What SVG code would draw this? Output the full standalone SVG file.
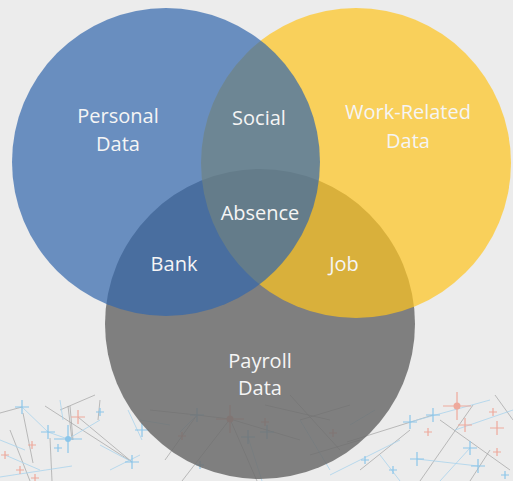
<svg xmlns="http://www.w3.org/2000/svg" width="513" height="481" viewBox="0 0 513 481">
<defs>
<style>
.lbl{font-family:"Open Sans","Noto Sans","Liberation Sans",sans-serif;font-size:20px;fill:#f5f5f5;text-anchor:middle}
.ln{stroke:#9a9a9a;stroke-width:0.8;fill:none;opacity:0.8}
.lb{stroke:#a9d3ec;stroke-width:0.8;fill:none}
.cb{stroke:#8cc6ea;stroke-width:1.2;fill:none}
.cs{stroke:#eea99c;stroke-width:1.2;fill:none}
</style>
<path id="xs" d="M-4 0H4M0 -4V4"/>
<path id="xm" d="M-7 0H7M0 -7V7"/>
<path id="xl" d="M-14 0H14M0 -14V14"/>
</defs>
<rect width="513" height="481" fill="#ececec"/>
<g id="decoration">
<path class="ln" d="M45 406L132 462M68 406L72 440M70 406L73 440M23 413L33 463M50 438L52 481M0 413L22 407M78 417L132 462M100 400L98 420M10 430L30 481M60 410L95 395"/>
<path class="lb" d="M0 477L72 466M22 407L48 432L68 439L100 420M5 455L40 470M128 410L142 440M100 445L132 462M0 440L25 450M60 400L63 420M110 470L140 455"/>
<path class="ln" d="M230 419L182 481M230 419L257 481M230 419L300 440M150 410L197 415L230 419M265 405L330 420M290 395L340 450M197 415L165 460M300 420L350 405M310 455L360 440"/>
<path class="lb" d="M248 437L262 481M197 415L180 432M300 420L330 470M140 420L170 425"/>
<path class="ln" d="M347 442L433 415M440 420L510 470M473 405L420 481M360 470L410 430M490 450L470 481M495 395L513 420"/>
<path class="lb" d="M410 422L490 400M417 459L478 466M330 475L400 440M455 430L513 410M470 448L440 481M380 455L400 481M350 425L375 410"/>
<use href="#xl" class="cb" x="68" y="439"/><circle cx="68" cy="439" r="3" fill="#8cc6ea"/>
<use href="#xm" class="cb" x="22" y="407"/>
<use href="#xm" class="cs" x="78" y="417"/>
<use href="#xm" class="cb" x="48" y="432"/>
<use href="#xm" class="cb" x="132" y="462"/>
<use href="#xm" class="cb" x="142" y="430"/>
<use href="#xs" class="cs" x="32" y="445"/>
<use href="#xs" class="cs" x="20" y="470"/>
<use href="#xs" class="cb" x="58" y="448"/>
<use href="#xs" class="cs" x="5" y="455"/>
<use href="#xs" class="cb" x="100" y="412"/>
<use href="#xs" class="cs" x="35" y="478"/>
<use href="#xl" class="cs" x="230" y="419"/><circle cx="230" cy="419" r="3.5" fill="#eea99c"/>
<use href="#xm" class="cb" x="248" y="437"/>
<use href="#xm" class="cb" x="197" y="415"/>
<use href="#xm" class="cb" x="267" y="432"/>
<use href="#xs" class="cs" x="182" y="436"/>
<use href="#xs" class="cs" x="333" y="433"/>
<use href="#xs" class="cs" x="265" y="422"/>
<use href="#xs" class="cb" x="200" y="465"/>
<use href="#xl" class="cs" x="457" y="406"/><circle cx="457" cy="406" r="3.5" fill="#eea99c"/>
<use href="#xm" class="cs" x="465" y="425"/>
<use href="#xm" class="cb" x="433" y="415"/>
<use href="#xm" class="cb" x="417" y="459"/>
<use href="#xm" class="cs" x="497" y="428"/>
<use href="#xm" class="cb" x="470" y="448"/>
<use href="#xm" class="cb" x="478" y="466"/>
<use href="#xm" class="cb" x="410" y="422"/>
<use href="#xs" class="cs" x="428" y="432"/>
<use href="#xs" class="cb" x="393" y="470"/>
<use href="#xs" class="cs" x="497" y="452"/>
<use href="#xs" class="cb" x="365" y="460"/>
<use href="#xs" class="cb" x="505" y="475"/>
<use href="#xs" class="cs" x="493" y="412"/>
</g>
<g id="payroll">
<circle cx="260" cy="324" r="155" fill="#6c6c6c" fill-opacity="0.85"/>
</g>
<g id="work">
<circle cx="356" cy="163" r="155" fill="#ffc51e" fill-opacity="0.7"/>
</g>
<g id="personal">
<circle cx="166" cy="162" r="154" fill="#3267ad" fill-opacity="0.7"/>
</g>
<g id="labels">
<text class="lbl" x="118" y="123">Personal</text>
<text class="lbl" x="118" y="151">Data</text>
<text class="lbl" x="259" y="125">Social</text>
<text class="lbl" x="408" y="119">Work-Related</text>
<text class="lbl" x="408" y="148">Data</text>
<text class="lbl" x="260" y="220">Absence</text>
<text class="lbl" x="174" y="271">Bank</text>
<text class="lbl" x="344" y="271">Job</text>
<text class="lbl" x="260" y="368">Payroll</text>
<text class="lbl" x="260" y="395">Data</text>
</g>
</svg>
